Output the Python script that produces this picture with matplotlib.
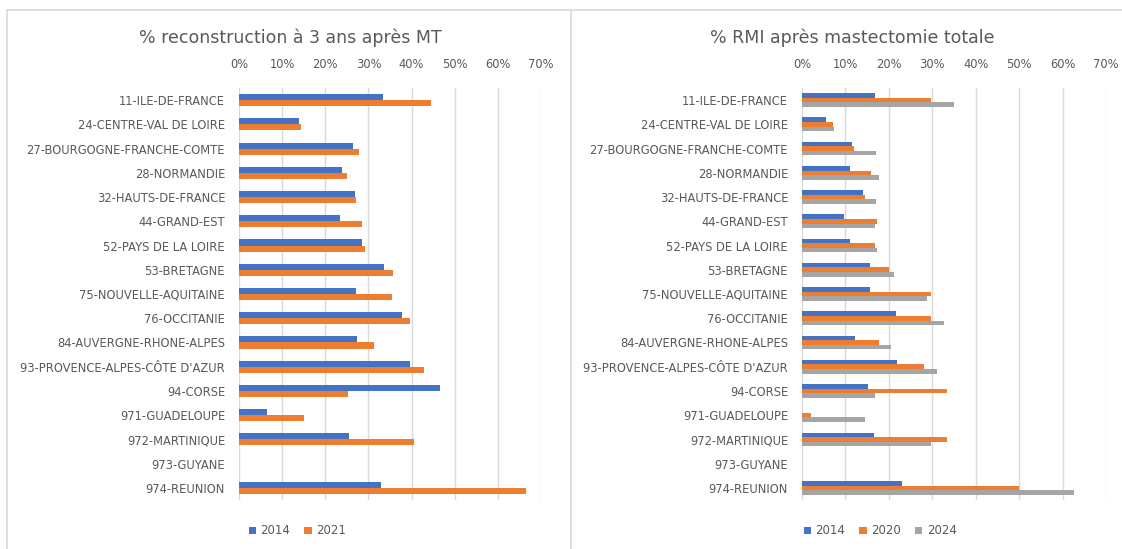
import numpy as np
import matplotlib
matplotlib.use('Agg')
import matplotlib.pyplot as plt
from matplotlib.patches import Patch
from matplotlib.lines import Line2D

regions = ['11-ILE-DE-FRANCE', '24-CENTRE-VAL DE LOIRE', '27-BOURGOGNE-FRANCHE-COMTE',
           '28-NORMANDIE', '32-HAUTS-DE-FRANCE', '44-GRAND-EST', '52-PAYS DE LA LOIRE',
           '53-BRETAGNE', '75-NOUVELLE-AQUITAINE', '76-OCCITANIE', '84-AUVERGNE-RHONE-ALPES',
           "93-PROVENCE-ALPES-CÔTE D'AZUR", '94-CORSE', '971-GUADELOUPE', '972-MARTINIQUE',
           '973-GUYANE', '974-REUNION']

# left chart: % reconstruction a 3 ans apres MT
recon_2014 = [33.3, 14.0, 26.5, 23.9, 26.8, 23.5, 28.6, 33.7, 27.1, 37.7, 27.4, 39.6, 46.6, 6.6, 25.6, 0, 32.8]
recon_2021 = [44.4, 14.4, 27.7, 25.0, 27.1, 28.6, 29.2, 35.6, 35.5, 39.6, 31.4, 42.8, 25.3, 15.0, 40.5, 0, 66.6]

# right chart: % RMI apres mastectomie totale
rmi_2014 = [16.7, 5.6, 11.4, 11.1, 14.1, 9.6, 11.1, 15.6, 15.6, 21.6, 12.1, 21.8, 15.1, 0, 16.5, 0, 23.0]
rmi_2020 = [29.6, 7.2, 11.9, 15.9, 14.5, 17.2, 16.7, 20.0, 29.7, 29.8, 17.7, 28.1, 33.4, 2.1, 33.4, 0, 49.9]
rmi_2024 = [35.1, 7.4, 17.0, 17.7, 17.0, 16.7, 17.2, 21.2, 28.8, 32.8, 20.6, 31.1, 16.7, 14.5, 29.8, 0, 62.6]

blue = '#4472C4'
orange = '#ED7D31'
gray = '#A5A5A5'
txt = '#595959'
W, H = 1122, 549

plt.rcParams['font.family'] = ['DejaVu Sans']

fig = plt.figure(figsize=(W / 100, H / 100), dpi=100)


def fx(px):
    return px / W


def fy(py):
    return 1 - py / H


def draw_panel(left_px, right_px, title, title_x, series, bar_h, leg_x):
    ax = fig.add_axes([fx(left_px), fy(500), fx(right_px - left_px), (500 - 88) / H])
    y = np.arange(len(regions))
    n = len(series)
    for i, (vals, color, label) in enumerate(series):
        off = (i - (n - 1) / 2) * bar_h
        ax.barh(y + off, np.array(vals) / 100, height=bar_h, color=color, label=label, zorder=3)
    ax.set_xlim(0, 0.7)
    ax.set_ylim(len(regions) - 0.5, -0.5)
    ax.set_xticks(np.arange(0, 0.71, 0.1))
    ax.set_xticklabels([f'{int(round(t * 100))}%' for t in np.arange(0, 0.71, 0.1)])
    ax.xaxis.tick_top()
    ax.tick_params(axis='x', length=0, pad=12, labelsize=8.3, labelcolor=txt)
    ax.set_yticks(y)
    ax.set_yticklabels(regions)
    ax.tick_params(axis='y', length=0, pad=10, labelsize=8.3, labelcolor=txt)
    ax.grid(axis='x', color='#D9D9D9', linewidth=1, zorder=0)
    for s in ax.spines.values():
        s.set_visible(False)
    fig.text(fx(title_x), fy(38), title, ha='center', va='center', fontsize=12.5, color=txt)
    handles = [Patch(facecolor=c, label=l) for _, c, l in series]
    fig.legend(handles=handles, loc='center left', bbox_to_anchor=(fx(leg_x), fy(531)),
               ncol=len(series), frameon=False, fontsize=8.5, labelcolor=txt,
               handlelength=0.6, handleheight=0.6, handletextpad=0.4, columnspacing=1.2)


draw_panel(239, 541, '% reconstruction à 3 ans après MT', 290,
           [(recon_2014, blue, '2014'), (recon_2021, orange, '2021')], 0.25, 238)
draw_panel(802, 1106, '% RMI après mastectomie totale', 852,
           [(rmi_2014, blue, '2014'), (rmi_2020, orange, '2020'), (rmi_2024, gray, '2024')], 0.19, 793)

# panel frames
frame = dict(color='#D9D9D9', linewidth=1.2, transform=fig.transFigure)
fig.add_artist(Line2D([fx(7), fx(1122)], [fy(10), fy(10)], **frame))
fig.add_artist(Line2D([fx(7), fx(7)], [fy(10), fy(549)], **frame))
fig.add_artist(Line2D([fx(571), fx(571)], [fy(10), fy(549)], **frame))

fig.savefig('out.png', dpi=100)
